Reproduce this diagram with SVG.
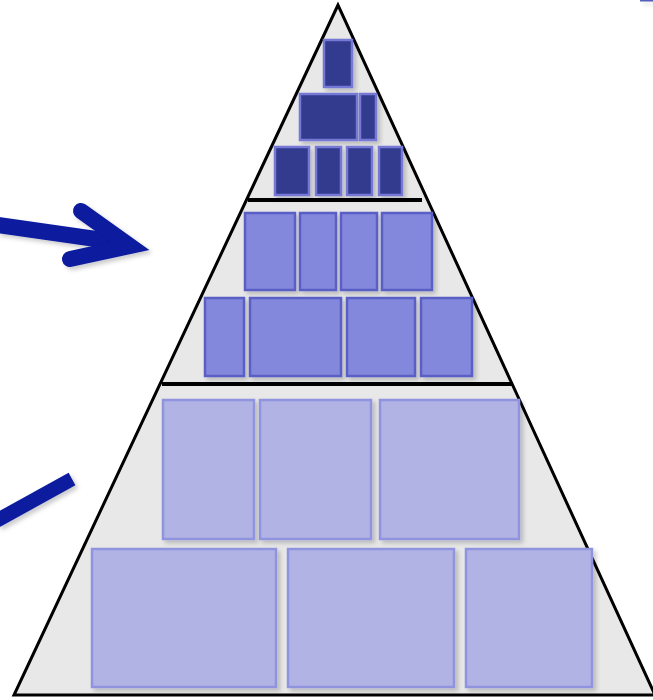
<svg xmlns="http://www.w3.org/2000/svg" width="653" height="700" viewBox="0 0 653 700">
<style>
.tri{fill:#e8e8e8;stroke:#000;stroke-width:3;stroke-linejoin:miter}
.sep{stroke:#000;stroke-width:4}
.dark{fill:#333a8e;stroke:#7478d4;stroke-width:2.5}
.mid{fill:#8488dc;stroke:#5a5ec6;stroke-width:2.5}
.light{fill:#b1b3e4;stroke:#9094de;stroke-width:2.5}
.arrow{fill:none;stroke:#0a1a9e;stroke-width:16}
</style>
<defs>
<filter id="sh" x="-10%" y="-10%" width="130%" height="130%">
<feDropShadow dx="3" dy="3" stdDeviation="2" flood-color="#000" flood-opacity="0.2"/>
</filter>
</defs>
<rect width="653" height="700" fill="#fff"/>
<g id="pyramid">
<polygon class="tri" points="338,5 14,695 655,695"/>
<line class="sep" x1="248" y1="200" x2="422" y2="200"/>
<line class="sep" x1="162" y1="384" x2="512" y2="384"/>
</g>
<g id="tier-top" filter="url(#sh)">
<rect class="dark" x="324" y="40" width="28" height="47"/>
<rect class="dark" x="300" y="94" width="57" height="46"/>
<rect class="dark" x="360" y="94" width="16" height="46"/>
<rect class="dark" x="275" y="147" width="34" height="48"/>
<rect class="dark" x="316" y="147" width="25" height="48"/>
<rect class="dark" x="347" y="147" width="25" height="48"/>
<rect class="dark" x="379" y="147" width="23" height="48"/>
</g>
<g id="tier-middle" filter="url(#sh)">
<rect class="mid" x="245" y="213" width="50" height="77"/>
<rect class="mid" x="300" y="213" width="36" height="77"/>
<rect class="mid" x="341" y="213" width="36" height="77"/>
<rect class="mid" x="382" y="213" width="50" height="77"/>
<rect class="mid" x="205" y="298" width="39" height="78"/>
<rect class="mid" x="250" y="298" width="91" height="78"/>
<rect class="mid" x="347" y="298" width="68" height="78"/>
<rect class="mid" x="421" y="298" width="51" height="78"/>
</g>
<g id="tier-bottom" filter="url(#sh)">
<rect class="light" x="163" y="400" width="91" height="139"/>
<rect class="light" x="260" y="400" width="111" height="139"/>
<rect class="light" x="380" y="400" width="139" height="139"/>
<rect class="light" x="92" y="549" width="184" height="138"/>
<rect class="light" x="288" y="549" width="166" height="138"/>
<rect class="light" x="466" y="549" width="126" height="138"/>
</g>
<g id="connectors" filter="url(#sh)">
<line class="arrow" x1="-2" y1="225" x2="124" y2="243"/>
<polyline class="arrow" points="81,211 130,246 70,259" stroke-linecap="round" stroke-linejoin="miter"/>
<line class="arrow" x1="-4" y1="521" x2="72" y2="479" style="stroke-width:14"/>
<line class="arrow" x1="640" y1="0.5" x2="653" y2="0.5" style="stroke-width:2;opacity:0.7"/>
</g>
</svg>
